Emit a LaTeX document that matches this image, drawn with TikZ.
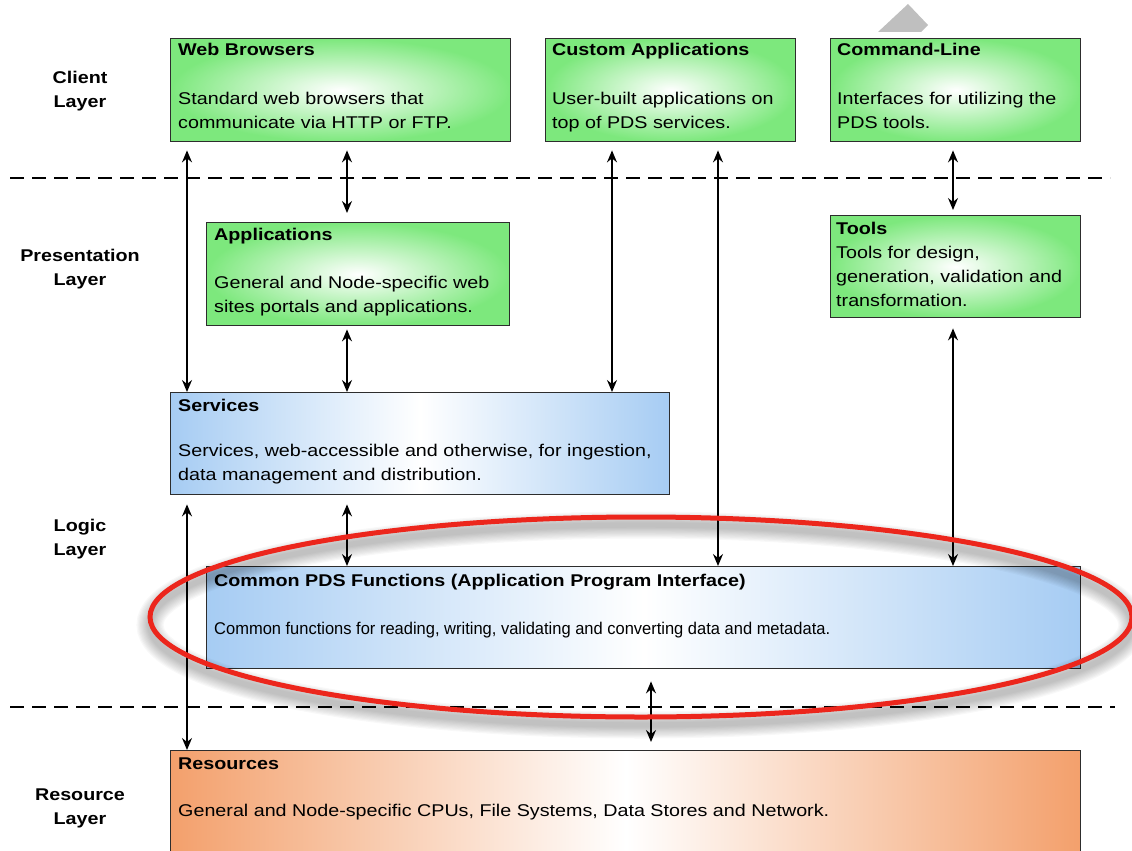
\documentclass[tikz,border=0pt]{standalone}
\usepackage{fontspec}
\setmainfont{Liberation Sans}[FakeStretch=1.16]
\newfontfamily\narrowfont{Liberation Sans}[FakeStretch=0.97]
\usetikzlibrary{arrows.meta}
\definecolor{gbox}{RGB}{125,232,125}
\definecolor{bbox}{RGB}{166,204,243}
\definecolor{obox}{RGB}{243,160,108}
\definecolor{ringred}{RGB}{236,38,28}
\definecolor{edgec}{RGB}{45,45,45}
\newcommand{\ml}[1]{\begin{tabular}[t]{@{}l@{}}#1\end{tabular}}
\begin{document}
\begin{tikzpicture}[x=1pt,y=-1pt,
  box/.style={draw=edgec, line width=1.4pt, rectangle, anchor=north west, inner sep=0pt},
  gbx/.style={box, inner color=white, outer color=gbox},
  bbx/.style={box, left color=bbox, right color=bbox, middle color=white},
  obx/.style={box, left color=obox, right color=obox, middle color=white},
  ttl/.style={anchor=base west, inner sep=0pt, font=\fontsize{17}{24}\selectfont\bfseries},
  txt/.style={anchor=base west, inner sep=0pt, font=\fontsize{17}{24}\selectfont},
  lay/.style={align=center, inner sep=0pt, font=\fontsize{17}{24}\selectfont\bfseries},
  dbl/.style={line width=1.5pt, {Stealth[length=12pt,width=10pt,inset=4pt]}-{Stealth[length=12pt,width=10pt,inset=4pt]}},
  sepline/.style={line width=1.5pt, dash pattern=on 14pt off 8pt}
]
\useasboundingbox (0,0) rectangle (1132,851);

% layer separators
\coordinate (s1a) at (10,178);
\coordinate (s1b) at (1110,178);
\coordinate (s2a) at (10,707);
\coordinate (s2b) at (1115,707);
\draw[sepline] (s1a) -- (s1b);
\draw[sepline] (s2a) -- (s2b);

% gray mark at top
\fill[black!25] (878,32) -- (908,4) -- (928,25) -- (921,32) -- cycle;

% layer labels
\node[lay] (lclient) at (80,91) {Client\\Layer};
\node[lay] (lpres) at (80,269) {Presentation\\Layer};
\node[lay] (llogic) at (80,539) {Logic\\Layer};
\node[lay] (lres) at (80,808) {Resource\\Layer};

% boxes
\node[gbx, minimum width=340pt, minimum height=103pt] (wb) at (170,38) {};
\node[gbx, minimum width=250pt, minimum height=103pt] (cust) at (545,38) {};
\node[gbx, minimum width=250pt, minimum height=103pt] (cmd) at (830,38) {};
\node[gbx, minimum width=303pt, minimum height=103pt] (apps) at (206,222) {};
\node[gbx, minimum width=250pt, minimum height=102pt] (tools) at (830,215) {};
\node[bbx, minimum width=499pt, minimum height=102pt] (svc) at (170,392) {};
\node[bbx, minimum width=874pt, minimum height=102pt] (api) at (206,566) {};
\node[obx, minimum width=910pt, minimum height=130pt] (res) at (170,750) {};

% texts
\node[ttl] (wbt) at ([shift={(8,18)}]wb.north west) {Web Browsers};
\node[txt] (wbb) at ([shift={(8,66)}]wb.north west) {\ml{Standard web browsers that\\communicate via HTTP or FTP.}};
\node[ttl] (custt) at ([shift={(7,18)}]cust.north west) {Custom Applications};
\node[txt] (custb) at ([shift={(7,66)}]cust.north west) {\ml{User-built applications on\\top of PDS services.}};
\node[ttl] (cmdt) at ([shift={(7,18)}]cmd.north west) {Command-Line};
\node[txt] (cmdb) at ([shift={(7,66)}]cmd.north west) {\ml{Interfaces for utilizing the\\PDS tools.}};
\node[ttl] (appst) at ([shift={(8,18)}]apps.north west) {Applications};
\node[txt] (appsb) at ([shift={(8,66)}]apps.north west) {\ml{General and Node-specific web\\sites portals and applications.}};
\node[ttl] (toolst) at ([shift={(6,19)}]tools.north west) {Tools};
\node[txt] (toolsb) at ([shift={(6,43)}]tools.north west) {\ml{Tools for design,\\generation, validation and\\transformation.}};
\node[ttl] (svct) at ([shift={(8,19)}]svc.north west) {Services};
\node[txt] (svcb) at ([shift={(8,64)}]svc.north west) {\ml{Services, web-accessible and otherwise, for ingestion,\\data management and distribution.}};
\node[ttl] (apit) at ([shift={(8,20)}]api.north west) {Common PDS Functions (Application Program Interface)};
\node[txt] (apib) at ([shift={(8,68)}]api.north west) {\narrowfont Common functions for reading, writing, validating and converting data and metadata.};
\node[ttl] (rest) at ([shift={(8,19)}]res.north west) {Resources};
\node[txt] (resb) at ([shift={(8,66)}]res.north west) {General and Node-specific CPUs, File Systems, Data Stores and Network.};

% connectors
\draw[dbl, shorten <=8pt] (187,0 |- wb.south) -- (187,0 |- svc.north);
\draw[dbl, shorten <=8pt, shorten >=9pt] (347,0 |- wb.south) -- (347,0 |- apps.north);
\draw[dbl, shorten <=3pt] (347,0 |- apps.south) -- (347,0 |- svc.north);
\draw[dbl, shorten <=8pt] (612,0 |- cust.south) -- (612,0 |- svc.north);
\draw[dbl, shorten <=8pt] (718,0 |- cust.south) -- (718,0 |- api.north);
\draw[dbl, shorten <=8pt, shorten >=5pt] (953,0 |- cmd.south) -- (953,0 |- tools.north);
\draw[dbl, shorten <=10pt] (953,0 |- tools.south) -- (953,0 |- api.north);
\draw[dbl, shorten <=9pt] (347,0 |- svc.south) -- (347,0 |- api.north);
\draw[dbl, shorten <=9pt] (187,0 |- svc.south) -- (187,0 |- res.north);
\draw[dbl, shorten <=12pt, shorten >=8pt] (651,0 |- api.south) -- (651,0 |- res.north);

% highlight ring with soft shadow
\coordinate (ringc) at (641,617);
\foreach \i in {1,...,10}
  \draw[black, opacity=0.028, line width={3+2.4*\i}] ([yshift=-8pt]ringc) ellipse [x radius=491, y radius=100];
\draw[ringred, line width=5pt] (ringc) ellipse [x radius=491, y radius=100];
\end{tikzpicture}
\end{document}
